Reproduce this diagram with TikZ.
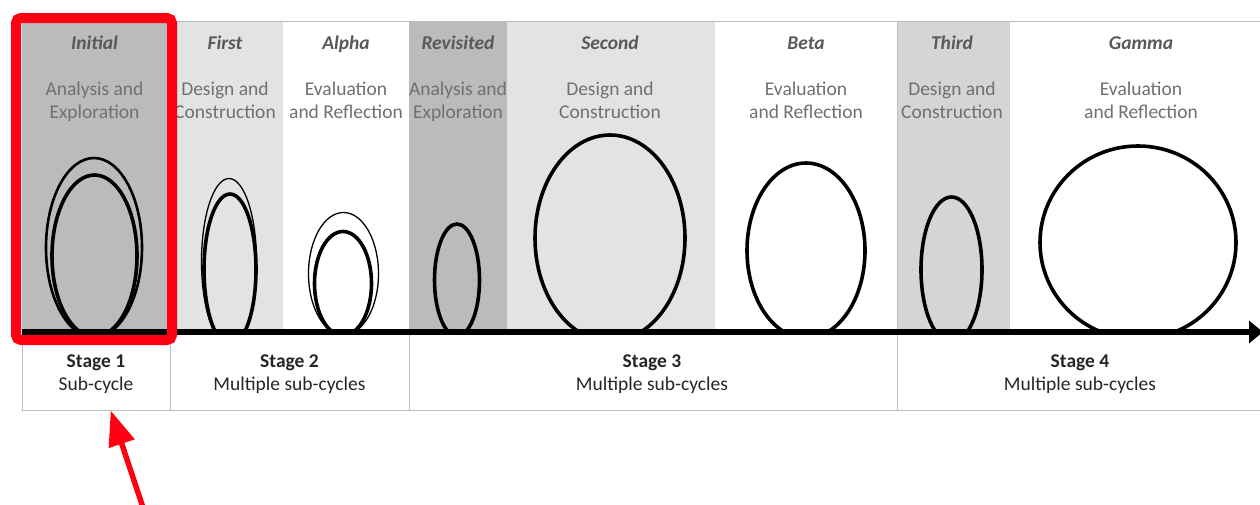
\documentclass[tikz,border=0pt]{standalone}
\usepackage{fontspec}
\setmainfont{Carlito}
\usetikzlibrary{arrows.meta}
\definecolor{dkgray}{HTML}{BBBBBB}
\definecolor{ltgray}{HTML}{E3E3E3}
\definecolor{mdgray}{HTML}{D5D5D5}
\definecolor{framegray}{HTML}{BDBDBD}
\definecolor{headgray}{HTML}{595959}
\definecolor{descgray}{HTML}{707070}
\definecolor{stagetext}{HTML}{262626}
\definecolor{hired}{HTML}{FF0013}
\tikzset{
  txt/.style={anchor=base, inner sep=0pt, font=\fontsize{19.5}{23}\selectfont},
  head/.style={txt, font=\fontsize{19.5}{23}\selectfont\bfseries\itshape, text=headgray},
  desc/.style={txt, text=descgray},
  stagetitle/.style={txt, font=\fontsize{19.5}{23}\selectfont\bfseries, text=stagetext},
  stagesub/.style={txt, text=stagetext},
  stagebox/.style={draw=framegray, line width=1.2pt, anchor=north west, inner sep=0pt, minimum height=389pt},
  loopthin/.style={draw=black, line width=1.3pt},
  loopmid/.style={draw=black, line width=2.6pt},
  loopthick/.style={draw=black, line width=3.6pt},
}
\begin{document}
\begin{tikzpicture}[x=1pt,y=-1pt]
\useasboundingbox (0,0) rectangle (1260,504);
\fill[white] (0,0) rectangle (1260,504);
% column fills
\fill[dkgray] (22,22) rectangle (167,331);
\fill[ltgray] (167,22) rectangle (283,331);
\fill[dkgray] (409,22) rectangle (507,331);
\fill[ltgray] (507,22) rectangle (715,331);
\fill[mdgray] (897,22) rectangle (1010,331);
% stage frames
\node[stagebox, minimum width=148pt] (s1) at (22,21) {};
\node[stagebox, minimum width=239pt] (s2) at (170,21) {};
\node[stagebox, minimum width=488pt] (s3) at (409,21) {};
\node[stagebox, minimum width=370pt] (s4) at (897,21) {};
% headers
\foreach \n/\x/\t in {1/94.5/Initial,2/225/First,3/346/Alpha,4/458/Revisited,5/610/Second,6/806/Beta,7/952/Third,8/1141/Gamma}
  \node[head] (h\n) at (\x,49) {\t};
% descriptions
\foreach \n/\x/\a/\b in {1/94.5/Analysis and/Exploration,2/225/Design and/Construction,3/346/Evaluation/and Reflection,4/458/Analysis and/Exploration,5/610/Design and/Construction,6/806/Evaluation/and Reflection,7/952/Design and/Construction,8/1141/Evaluation/and Reflection}
{
  \node[desc] (da\n) at (\x,95.7) {\a};
  \node[desc] (db\n) at (\x,118.7) {\b};
}
% stage labels
\node[stagetitle] (st1) at (96,367) {Stage 1};
\node[stagesub] (ss1) at (96,390) {Sub-cycle};
\node[stagetitle] (st2) at (289.5,367) {Stage 2};
\node[stagesub] (ss2) at (289.5,390) {Multiple sub-cycles};
\node[stagetitle] (st3) at (652,367) {Stage 3};
\node[stagesub] (ss3) at (652,390) {Multiple sub-cycles};
\node[stagetitle] (st4) at (1080,367) {Stage 4};
\node[stagesub] (ss4) at (1080,390) {Multiple sub-cycles};
% loops
\begin{scope}
\clip (0,0) rectangle (1260,331);
\draw[loopmid] (94,247.6) ellipse [x radius=48pt, y radius=89.6pt];
\draw[loopthick] (94.5,255.8) ellipse [x radius=42.5pt, y radius=80.8pt];
\draw[loopthin] (229,261.5) ellipse [x radius=27.5pt, y radius=83pt];
\draw[loopthick] (230,269.5) ellipse [x radius=26pt, y radius=75.5pt];
\draw[loopthin] (343.5,273.7) ellipse [x radius=35pt, y radius=61.2pt];
\draw[loopthick] (343,283.5) ellipse [x radius=28.5pt, y radius=52pt];
\draw[loopthick] (457,280) ellipse [x radius=22.5pt, y radius=56pt];
\draw[loopthick] (610,238) ellipse [x radius=75pt, y radius=103pt];
\draw[loopthick] (806,250.5) ellipse [x radius=59pt, y radius=87.5pt];
\draw[loopthick] (951.5,269.6) ellipse [x radius=30.5pt, y radius=72.6pt];
\draw[loopthick] (1138,242.5) ellipse [x radius=98pt, y radius=96.5pt];
\end{scope}
% time axis
\coordinate (axstart) at (22,332);
\coordinate (axend) at (1263,332);
\draw[line width=6pt, -{Triangle[length=14pt,width=22pt]}] (axstart) -- (axend);
% red highlight
\draw[hired, line width=10pt, rounded corners=5pt] (16,18) rectangle (172,340);
\coordinate (ptr) at (110.7,410.5);
\coordinate (ptrtail) at (143.5,509);
\draw[hired, line width=5.5pt, -{Triangle[length=35pt,width=26pt]}] (ptrtail) -- (ptr);
\end{tikzpicture}
\end{document}
